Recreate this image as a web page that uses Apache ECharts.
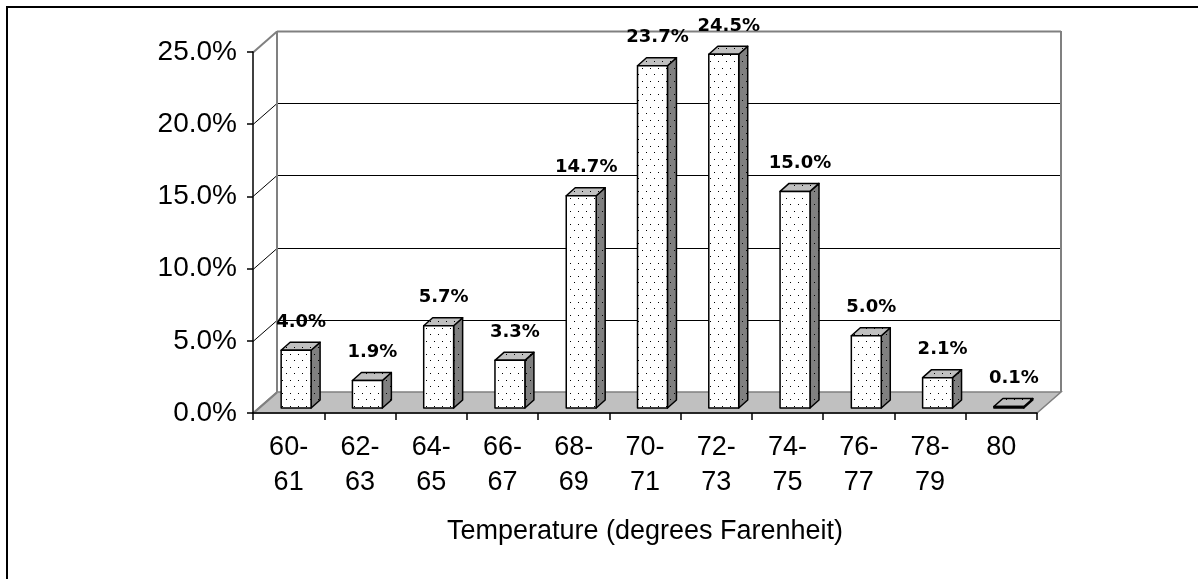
<!DOCTYPE html>
<html>
<head>
<meta charset="utf-8">
<script src="https://cdn.jsdelivr.net/npm/echarts@6/dist/echarts.min.js"></script>
<style>
  html, body { margin: 0; padding: 0; background: #fff; }
  #chart { width: 1198px; height: 579px; }
</style>
</head>
<body>
<div id="chart"></div>
<script>
// Temperature distribution (share of readings per 2-degree band)
const categories = ['60-61', '62-63', '64-65', '66-67', '68-69', '70-71', '72-73', '74-75', '76-77', '78-79', '80'];
const percentValues = [4.0, 1.9, 5.7, 3.3, 14.7, 23.7, 24.5, 15.0, 5.0, 2.1, 0.1];
const yTicks = [0, 5, 10, 15, 20, 25];
const xTitle = 'Temperature (degrees Farenheit)';

// Oblique depth of the chart box and of a column (pixels)
const WALL_DX = 24, WALL_DY = -21;
const BAR_FRONT_DY = -5;
const BAR_SIDE_DX = 9, BAR_SIDE_DY = -8;

// Dotted fill tiles for the column faces
function dotTile(bg, dot) {
  const c = document.createElement('canvas');
  c.width = 8; c.height = 13;
  const g = c.getContext('2d');
  g.fillStyle = bg; g.fillRect(0, 0, 8, 13);
  g.fillStyle = dot;
  g.fillRect(2, 3, 1, 1);
  g.fillRect(6, 9, 1, 1);
  return c;
}
const frontFill = { image: dotTile('#ffffff', '#000000'), repeat: 'repeat' };
const sideFill = { image: dotTile('#808080', '#000000'), repeat: 'repeat' };
const topFill = { image: dotTile('#c0c0c0', '#000000'), repeat: 'repeat' };

const chart = echarts.init(document.getElementById('chart'), null, { renderer: 'canvas' });

// Back wall, side-wall grid and floor, drawn from the value axis ticks
function renderWalls(params, api) {
  const cs = params.coordSys;
  const x0 = cs.x, x1 = cs.x + cs.width;
  const yBase = api.coord([0, 0])[1];
  const children = [];
  // floor
  children.push({
    type: 'polygon',
    shape: { points: [[x0, yBase], [x1, yBase], [x1 + WALL_DX, yBase + WALL_DY], [x0 + WALL_DX, yBase + WALL_DY]] },
    style: { fill: '#c0c0c0', stroke: '#808080', lineWidth: 1.5 }
  });
  const yTop = api.coord([0, yTicks[yTicks.length - 1]])[1];
  yTicks.forEach(function (t, k) {
    const y = Math.round(api.coord([0, t])[1]) + 0.5;
    const edge = (k === 0 || k === yTicks.length - 1);
    // side wall line
    children.push({
      type: 'line',
      shape: { x1: x0, y1: y, x2: x0 + WALL_DX, y2: y + WALL_DY },
      style: { stroke: edge ? '#808080' : '#000', lineWidth: edge ? 2 : 1 }
    });
    // back wall line
    if (k > 0) {
      children.push({
        type: 'line',
        shape: { x1: x0 + WALL_DX, y1: y + WALL_DY, x2: x1 + WALL_DX, y2: y + WALL_DY },
        style: { stroke: edge ? '#808080' : '#000', lineWidth: edge ? 2 : 1 }
      });
    }
  });
  // back wall verticals
  [x0 + WALL_DX, x1 + WALL_DX].forEach(function (x) {
    children.push({
      type: 'line',
      shape: { x1: x, y1: yTop + WALL_DY, x2: x, y2: yBase + WALL_DY },
      style: { stroke: '#808080', lineWidth: 2 }
    });
  });
  return { type: 'group', children: children };
}

// Oblique 3D column with its value label
function renderBar(params, api) {
  const i = api.value(0), v = api.value(1);
  const top = api.coord([i, v]);
  const base = api.coord([i, 0]);
  const bw = api.size([1, 0])[0];
  const fl = top[0] - 0.105 * bw;
  const fr = top[0] + 0.315 * bw;
  const by = base[1] + BAR_FRONT_DY;
  const ty = top[1] + BAR_FRONT_DY;
  const sx = BAR_SIDE_DX, sy = BAR_SIDE_DY;
  const outline = { stroke: '#000', lineWidth: 1.5, lineJoin: 'round' };
  return {
    type: 'group',
    children: [
      {
        type: 'polygon',
        shape: { points: [[fr, ty], [fr + sx, ty + sy], [fr + sx, by + sy], [fr, by]] },
        style: Object.assign({ fill: sideFill }, outline)
      },
      {
        type: 'polygon',
        shape: { points: [[fl, ty], [fr, ty], [fr + sx, ty + sy], [fl + sx, ty + sy]] },
        style: Object.assign({ fill: topFill }, outline)
      },
      {
        type: 'rect',
        shape: { x: fl, y: ty, width: fr - fl, height: Math.max(by - ty, 0.5) },
        style: Object.assign({ fill: frontFill }, outline)
      },
      {
        type: 'text',
        style: {
          text: v.toFixed(1) + '%',
          x: (fl + fr) / 2 + 5,
          y: ty - 28,
          align: 'center',
          verticalAlign: 'middle',
          font: 'bold 18px "DejaVu Sans", Verdana, sans-serif',
          fill: '#000'
        }
      }
    ]
  };
}

const option = {
  animation: false,
  backgroundColor: '#fff',
  graphic: [{
    type: 'rect',
    shape: { x: 7, y: 7, width: 1300, height: 700 },
    style: { fill: 'none', stroke: '#000', lineWidth: 2 },
    z: 10
  }],
  grid: { left: 253, right: 161, top: 52, bottom: 166, containLabel: false },
  xAxis: {
    type: 'category',
    data: categories,
    z: 5,
    boundaryGap: true,
    axisLine: { show: true, lineStyle: { color: '#000', width: 1.5 } },
    axisTick: { show: true, interval: 0, length: 7, lineStyle: { color: '#000', width: 1.5 } },
    axisLabel: {
      interval: 0,
      margin: 17,
      color: '#000',
      fontSize: 27,
      lineHeight: 35,
      fontFamily: '"Liberation Sans", Arial, sans-serif',
      formatter: function (s) { return s.replace('-', '-\n'); }
    },
    name: xTitle,
    nameLocation: 'middle',
    nameGap: 105,
    nameTextStyle: { color: '#000', fontSize: 27, fontFamily: '"Liberation Sans", Arial, sans-serif' },
    splitLine: { show: false }
  },
  yAxis: {
    type: 'value',
    min: 0,
    max: 25,
    interval: 5,
    z: 5,
    axisLine: { show: true, lineStyle: { color: '#000', width: 1.5 } },
    axisTick: { show: true, length: 6, lineStyle: { color: '#000', width: 1.5 } },
    axisLabel: {
      margin: 16,
      color: '#000',
      fontSize: 28,
      fontFamily: '"Liberation Sans", Arial, sans-serif',
      formatter: function (v) { return v.toFixed(1) + '%'; }
    },
    splitLine: { show: false }
  },
  series: [
    {
      type: 'custom',
      name: 'walls',
      z: 0,
      silent: true,
      renderItem: renderWalls,
      data: [[0, 0]],
      encode: { x: 0, y: 1 }
    },
    {
      type: 'custom',
      name: 'share',
      z: 2,
      renderItem: renderBar,
      data: percentValues.map(function (v, i) { return [i, v]; }),
      encode: { x: 0, y: 1 }
    }
  ]
};

chart.setOption(option);
</script>
</body>
</html>
